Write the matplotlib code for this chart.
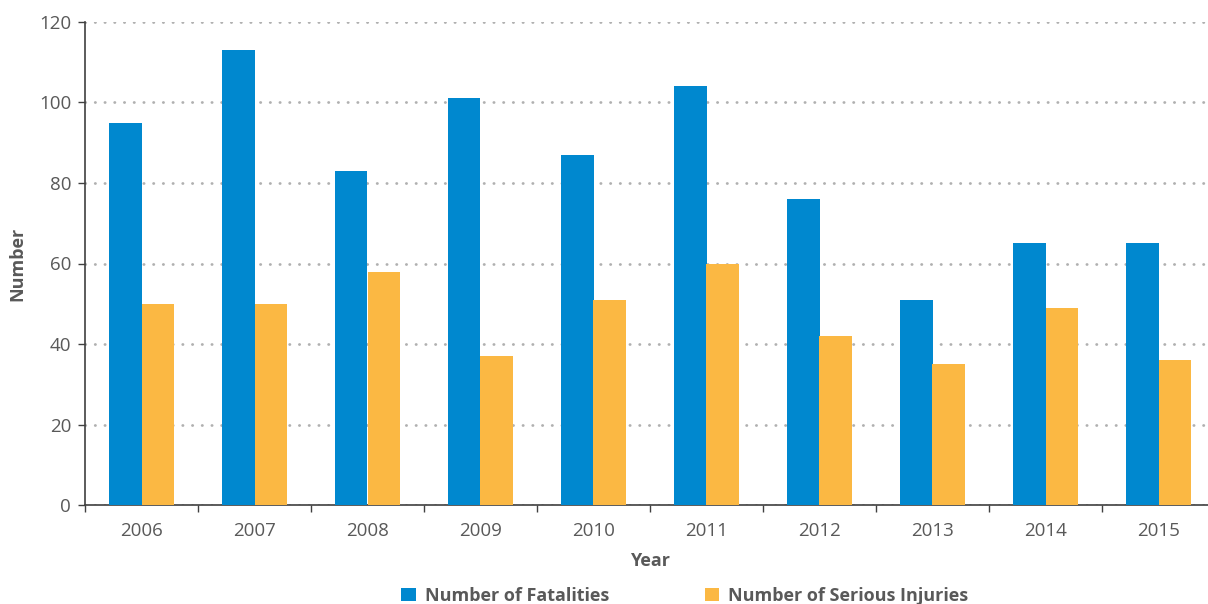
import numpy as np
import matplotlib.pyplot as plt

years = ['2006', '2007', '2008', '2009', '2010', '2011', '2012', '2013', '2014', '2015']
fatalities = [95, 113, 83, 101, 87, 104, 76, 51, 65, 65]
serious_injuries = [50, 50, 58, 37, 51, 60, 42, 35, 49, 36]

BLUE = '#0088cf'
ORANGE = '#fbb843'
TEXT = '#595959'

plt.rcParams['font.family'] = ['Open Sans', 'DejaVu Sans']

fig = plt.figure(figsize=(12.08, 6.04), dpi=100)
ax = fig.add_axes([85 / 1208, 99 / 604, 1130 / 1208, 483 / 604])

x = np.arange(len(years))
w = 0.29
ax.bar(x - w / 2, fatalities, w, color=BLUE, label='Number of Fatalities', zorder=3)
ax.bar(x + w / 2, serious_injuries, w, color=ORANGE, label='Number of Serious Injuries', zorder=3)

ax.set_xlim(-0.5, len(years) - 0.5)
ax.set_ylim(0, 120)
ax.set_yticks(range(0, 121, 20))
ax.yaxis.grid(True, linestyle=(0, (0.1, 3.4)), linewidth=2.0, color='#b0b0b0',
              dash_capstyle='round', zorder=0)
ax.set_axisbelow(True)

ax.set_xticks(x)
ax.set_xticklabels(years)
ax.set_xticks(np.arange(-0.5, len(years)), minor=True)
ax.tick_params(axis='x', which='major', length=0, pad=12, labelsize=13.5, labelcolor=TEXT)
ax.tick_params(axis='x', which='minor', length=5, width=1, color='#404040')
ax.tick_params(axis='y', length=5, width=1, color='#404040', labelsize=13.5, labelcolor=TEXT, pad=5)

for s in ['top', 'right']:
    ax.spines[s].set_visible(False)
for s in ['left', 'bottom']:
    ax.spines[s].set_color('#404040')
    ax.spines[s].set_linewidth(1.2)

ax.set_xlabel('Year', fontsize=13, fontweight='bold', color=TEXT, labelpad=9)
ax.set_ylabel('Number', fontsize=13, fontweight='bold', color=TEXT, labelpad=9)

ax.legend(loc='center', bbox_to_anchor=(600 / 1130, -0.188), ncol=2, frameon=False,
          labelcolor=TEXT, handlelength=0.8, handleheight=0.8, borderaxespad=0, borderpad=0,
          handletextpad=0.5, columnspacing=5.3, prop={'weight': 'bold', 'size': 13})

fig.savefig('out.png', dpi=100)
